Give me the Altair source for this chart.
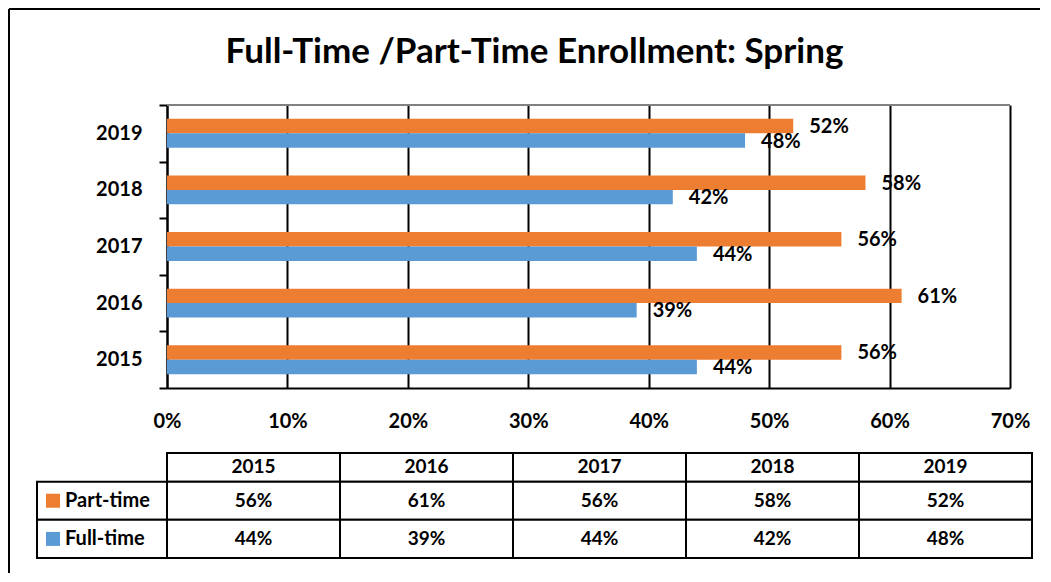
import altair as alt
import pandas as pd

# ---- data ----
years = ["2015", "2016", "2017", "2018", "2019"]
part_time = [56, 61, 56, 58, 52]
full_time = [44, 39, 44, 42, 48]
series = ["Part-time", "Full-time"]
colors = ["#ED7D31", "#5B9BD5"]
title_text = "Full-Time /Part-Time Enrollment: Spring"
x_ticks = [0, 10, 20, 30, 40, 50, 60, 70]

# ---- layout constants ----
FONT = "Lato"
PLOT_W = 995          # common width of both panels
BAR_H = 283
TABLE_H = 105
X0_PX = 130           # where 0% sits inside the panel
X1_PX = 973           # where 70% sits
COL_PX = 173          # width of a table column
LW = 130 / COL_PX     # width of the label column, in column units
HDR = 0.75            # header row height, in row units

rows = []
for y, p, f in zip(years, part_time, full_time):
    rows.append({"year": y, "series": "Part-time", "value": p})
    rows.append({"year": y, "series": "Full-time", "value": f})
df = pd.DataFrame(rows)

xscale = alt.Scale(domain=[0, 70], range=[X0_PX, X1_PX], nice=False, zero=True)

base = alt.Chart(df).transform_calculate(label="datum.value + '%'").encode(
    x=alt.X(
        "value:Q",
        scale=xscale,
        axis=alt.Axis(
            values=x_ticks, labelExpr="datum.value + '%'", title=None,
            grid=True, gridColor="black", gridWidth=2, ticks=False,
            domainColor="black", domainWidth=2, labelFontSize=20,
            labelFontWeight="bold", labelPadding=23, labelColor="black",
            labelFont=FONT, labelFlush=False,
        ),
    ),
    y=alt.Y(
        "year:N", sort=years[::-1],
        scale=alt.Scale(paddingInner=0, paddingOuter=0),
        axis=alt.Axis(
            title=None, offset=-X0_PX, tickBand="extent", tickSize=8,
            tickColor="black", tickWidth=2, domainColor="black", domainWidth=2,
            labelFontSize=20, labelFontWeight="bold", labelPadding=17,
            labelColor="black", labelFont=FONT,
        ),
    ),
    yOffset=alt.YOffset("series:N", sort=series,
                        scale=alt.Scale(paddingInner=0, paddingOuter=0.958)),
    color=alt.Color("series:N", scale=alt.Scale(domain=series, range=colors),
                    legend=None),
)

bars = base.mark_bar()
bar_labels = base.mark_text(
    align="left", baseline="middle", dx=16, dy=1, fontSize=20, fontWeight="bold",
    font=FONT,
).encode(text=alt.Text("label:N"), color=alt.value("black"))

top_line = alt.Chart(df).mark_rule(color="#808080", strokeWidth=1).encode(
    x=alt.datum(0, scale=xscale), x2=alt.datum(70), y=alt.value(0)
)

frame_top = alt.Chart(df).mark_rule(color="black", strokeWidth=2).encode(
    x=alt.value(-28), x2=alt.value(1003), y=alt.value(-96)
)
frame_left = alt.Chart(df).mark_rule(color="black", strokeWidth=2).encode(
    x=alt.value(-28), y=alt.value(-96), y2=alt.value(468)
)

bar_chart = alt.layer(top_line, bars, bar_labels, frame_top, frame_left).properties(
    width=PLOT_W, height=BAR_H
)

# ---- data table ----
cells = []
for i, _ in enumerate(years):
    cells.append({"x0": i, "x1": i + 1, "y0": 0, "y1": HDR})
for j, _ in enumerate(series):
    cells.append({"x0": -LW, "x1": 0, "y0": HDR + j, "y1": HDR + j + 1})
    for i, _ in enumerate(years):
        cells.append({"x0": i, "x1": i + 1, "y0": HDR + j, "y1": HDR + j + 1})
cells_df = pd.DataFrame(cells)

texts = []
for i, y in enumerate(years):
    texts.append({"x": i + 0.5, "y": HDR / 2, "t": y})
for j, vals in enumerate([part_time, full_time]):
    for i, v in enumerate(vals):
        texts.append({"x": i + 0.5, "y": HDR + j + 0.5, "t": f"{v}%"})
texts_df = pd.DataFrame(texts)

row_labels_df = pd.DataFrame({
    "x": [-LW + 28 / COL_PX] * 2,
    "xs": [-LW + 16 / COL_PX] * 2,
    "y": [HDR + 0.5, HDR + 1.5],
    "series": series,
})

tx = alt.Scale(domain=[-LW, 5], nice=False, zero=False)
ty = alt.Scale(domain=[0, HDR + 2], nice=False, zero=False, reverse=True)

cell_marks = alt.Chart(cells_df).mark_rect(
    fill="white", stroke="black", strokeWidth=2
).encode(
    x=alt.X("x0:Q", scale=tx, axis=None), x2="x1:Q",
    y=alt.Y("y0:Q", scale=ty, axis=None), y2="y1:Q",
)
cell_text = alt.Chart(texts_df).mark_text(
    fontSize=19, fontWeight="bold", font=FONT, color="black", baseline="middle"
).encode(
    x=alt.X("x:Q", scale=tx, axis=None),
    y=alt.Y("y:Q", scale=ty, axis=None),
    text="t:N",
)
squares = alt.Chart(row_labels_df).mark_square(size=196, opacity=1).encode(
    x=alt.X("xs:Q", scale=tx, axis=None),
    y=alt.Y("y:Q", scale=ty, axis=None),
    color=alt.Color("series:N", scale=alt.Scale(domain=series, range=colors),
                    legend=None),
)
row_text = alt.Chart(row_labels_df).mark_text(
    align="left", baseline="middle", fontSize=20, fontWeight="bold",
    font=FONT, color="black"
).encode(
    x=alt.X("x:Q", scale=tx, axis=None),
    y=alt.Y("y:Q", scale=ty, axis=None),
    text="series:N",
)

table = alt.layer(cell_marks, cell_text, squares, row_text).properties(
    width=PLOT_W, height=TABLE_H
)

chart = alt.vconcat(bar_chart, table, spacing=65, bounds="flush").properties(
    title=alt.TitleParams(
        title_text, fontSize=35, fontWeight="bold", font=FONT,
        anchor="middle", color="black", offset=-62, frame="group",
    ),
    padding=0,
).configure(font=FONT).configure_view(strokeWidth=0, stroke="transparent")

chart.save("out.html", embed_options={"renderer": "svg", "actions": False})
